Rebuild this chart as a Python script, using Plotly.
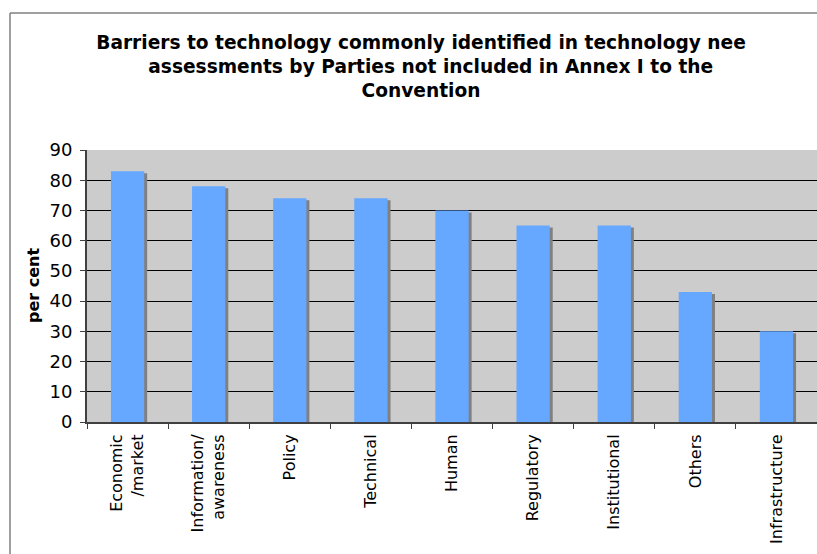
import plotly.graph_objects as go

categories = ["Economic<br>/market", "Information/<br>awareness", "Policy", "Technical", "Human",
              "Regulatory", "Institutional", "Others", "Infrastructure"]
values = [83, 78, 74, 74, 70, 65, 65, 43, 30]
y_ticks = [0, 10, 20, 30, 40, 50, 60, 70, 80, 90]

title_text = ("<b>Barriers to technology commonly identified in technology nee<br>"
              "\u00a0\u00a0\u00a0assessments by Parties not included in Annex I to the<br>Convention</b>")

W, H = 817, 554
ML, MT, MB, MR = 87, 150, 132, 0
plot_w = W - ML - MR
plot_h = H - MT - MB

bar_w = 0.41
shadow_dx = 3 / (plot_w / len(categories))
shadow_dy = 2 / plot_h * 90
shadow_vals = [v - shadow_dy for v in values]

fig = go.Figure()
fig.add_trace(go.Bar(x=categories, y=shadow_vals, width=bar_w, offset=-bar_w / 2 + shadow_dx,
                     marker=dict(color="#808080", line=dict(width=0)), hoverinfo="skip",
                     showlegend=False))
fig.add_trace(go.Bar(x=categories, y=values, width=bar_w, offset=-bar_w / 2,
                     marker=dict(color="#66A8FF", line=dict(width=0)), showlegend=False))

font_fam = "Verdana, DejaVu Sans, sans-serif"
fig.update_layout(
    width=W, height=H,
    margin=dict(l=ML, r=MR, t=MT, b=MB, pad=0),
    paper_bgcolor="white", plot_bgcolor="#CCCCCC",
    barmode="overlay",
    title=dict(text=title_text, x=421 / W, xanchor="center", xref="container",
               y=1 - 49 / H, yanchor="top", yref="container",
               font=dict(family=font_fam, size=18.6, color="black")),
    font=dict(family=font_fam, color="black"),
    xaxis=dict(type="category", tickangle=-90, tickson="boundaries", ticks="outside",
               ticklen=5, tickcolor="#404040", showline=True, linecolor="#404040", linewidth=2,
               ticklabelstandoff=4,
               tickfont=dict(size=16, family=font_fam), showgrid=False, fixedrange=True),
    yaxis=dict(range=[0, 90], tickvals=y_ticks, ticks="outside", ticklen=5, tickcolor="#404040",
               showline=True, linecolor="#404040", linewidth=2, showgrid=True, gridcolor="black",
               gridwidth=1, tickfont=dict(size=18, family=font_fam), zeroline=False,
               ticklabelstandoff=4, fixedrange=True),
    annotations=[dict(text="<b>per cent</b>", textangle=-90, xref="paper", yref="paper",
                      x=(33 - ML) / plot_w, y=0.5, xanchor="center", yanchor="middle",
                      showarrow=False, font=dict(size=16, family=font_fam, color="black"))],
    shapes=[
        dict(type="line", xref="paper", yref="paper", x0=(10 - ML) / plot_w, x1=(10 - ML) / plot_w,
             y0=(H - MB - 13) / plot_h, y1=-1, line=dict(color="#808080", width=1.5)),
        dict(type="line", xref="paper", yref="paper", x0=(10 - ML) / plot_w, x1=1.2,
             y0=(H - MB - 13) / plot_h, y1=(H - MB - 13) / plot_h, line=dict(color="#808080", width=1.5)),
    ],
)

fig.write_html("out.html")
